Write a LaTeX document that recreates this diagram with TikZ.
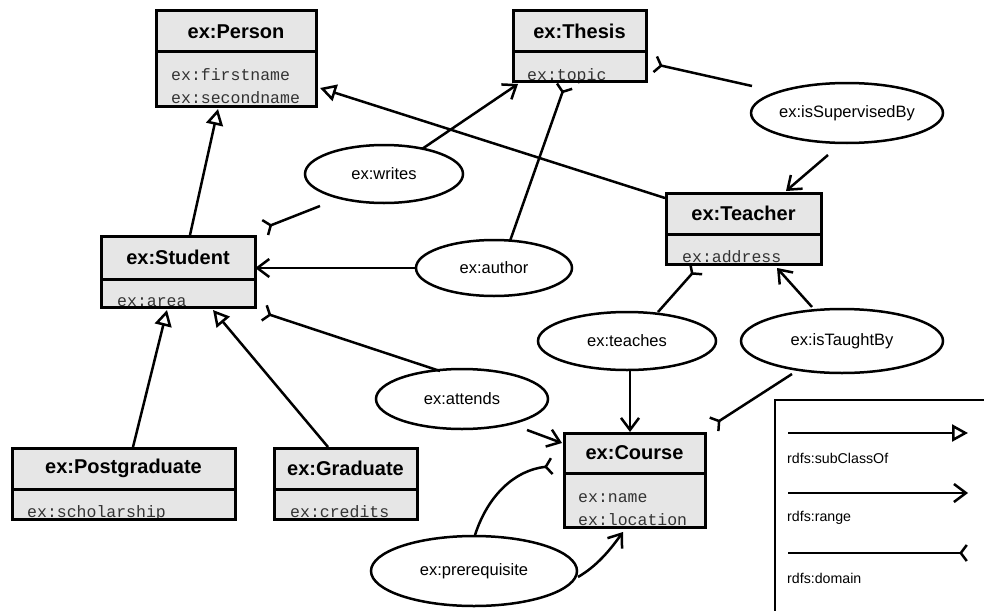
\documentclass[tikz,border=0pt]{standalone}
\usepackage{fontspec}
\setmainfont{Liberation Sans}
\setmonofont{Liberation Mono}
\usetikzlibrary{arrows.meta,shapes.geometric,calc,fit}
\definecolor{boxgray}{HTML}{E6E6E6}
\definecolor{attrgray}{HTML}{333333}
\tikzset{
 boxline/.style={line width=3pt},
 titletext/.style={font=\fontsize{20}{22}\selectfont\bfseries, inner sep=0pt},
 attr/.style={font=\ttfamily\fontsize{16.5}{18}\selectfont, text=attrgray, inner sep=0pt, anchor=base west},
 prop/.style={ellipse, draw, fill=white, line width=2.5pt, inner sep=0pt, font=\fontsize{16.5}{18}\selectfont},
 conn/.style={line width=2.5pt},
 subcl/.style={conn, -{Triangle[open, length=16pt, width=17pt]}},
 rng/.style={conn, -{Straight Barb[length=12pt, width=18pt]}},
 dom/.style={conn, -{Straight Barb[reversed, length=6pt, width=16pt]}},
 legtext/.style={font=\fontsize{14.2}{16}\selectfont, anchor=west, inner sep=0pt}
}
% name, x1, y1, x2, ydiv, y2, title
\newcommand\umlbox[7]{%
  \fill[boxgray] (#2,#3) rectangle (#4,#6);
  \node[titletext] at ({(#2+#4)/2},{(#3+#5)/2}) {#7};
  \node[fit={(#2,#3)(#4,#6)}, inner sep=0pt] (#1) {};
}
\newcommand\umlframe[5]{% x1,y1,x2,ydiv,y2
  \draw[boxline] (#1,#2) rectangle (#3,#5);
  \draw[boxline] (#1,#4) -- (#3,#4);
}
\begin{document}
\begin{tikzpicture}[x=1pt,y=-1pt]
\useasboundingbox (0,0) rectangle (984,610);
\fill[white] (0,0) rectangle (984,610);

% classes
\umlbox{person}{156}{11}{316}{52}{106}{ex:Person}
\node[attr] at (171,80) {ex:firstname};
\node[attr] at (171,103) {ex:secondname};
\umlframe{156}{11}{316}{52}{106}

\umlbox{thesis}{513}{11}{646}{52}{81}{ex:Thesis}
\node[attr] at (527,80) {ex:topic};
\umlframe{513}{11}{646}{52}{81}

\umlbox{student}{101}{236}{255}{279}{307}{ex:Student}
\node[attr] at (117,306) {ex:area};
\umlframe{101}{236}{255}{279}{307}

\umlbox{teacher}{666}{193}{821}{234}{264}{ex:Teacher}
\node[attr] at (682,262) {ex:address};
\umlframe{666}{193}{821}{234}{264}

\umlbox{postgrad}{12}{448}{235}{489}{519}{ex:Postgraduate}
\node[attr] at (27,517) {ex:scholarship};
\umlframe{12}{448}{235}{489}{519}

\umlbox{graduate}{274}{448}{417}{489}{519}{ex:Graduate}
\node[attr] at (290,517) {ex:credits};
\umlframe{274}{448}{417}{489}{519}

\umlbox{course}{564}{433}{705}{473}{527}{ex:Course}
\node[attr] at (578,502) {ex:name};
\node[attr] at (578,525) {ex:location};
\umlframe{564}{433}{705}{473}{527}

% properties
\node[prop, minimum width=158pt, minimum height=58pt] (writes) at (384,174) {ex:writes};
\node[prop, minimum width=156pt, minimum height=56pt] (author) at (494,268) {ex:author};
\node[prop, minimum width=190pt, minimum height=60pt] (issup) at (847,113) {ex:isSupervisedBy};
\node[prop, minimum width=178pt, minimum height=58pt] (teaches) at (627,341) {ex:teaches};
\node[prop, minimum width=202pt, minimum height=64pt] (istaught) at (842,341) {ex:isTaughtBy};
\node[prop, minimum width=172pt, minimum height=60pt] (attends) at (462,399) {ex:attends};
\node[prop, minimum width=206pt, minimum height=70pt] (prereq) at (474,571) {ex:prerequisite};

% subClassOf
\draw[subcl] ($(student)+(12,-36.5)$) -- ($(person)+(-18,50.5)$);
\draw[subcl] ($(teacher)+(-78.5,-30.5)$) -- ($(person)+(84,29.5)$);
\draw[subcl] ($(postgrad)+(9.5,-36.5)$) -- ($(student)+(-11,38.5)$);
\draw[subcl] ($(graduate)+(-17.5,-36.5)$) -- ($(student)+(35,38.5)$);

% range
\draw[rng] ($(writes)+(38,-25)$) -- ($(thesis)+(-61.5,38)$);
\draw[rng] (author.west) -- (author.west -| student.east);
\draw[rng] ($(issup)+(-19,42)$) -- ($(teacher)+(42.5,-37.5)$);
\draw[rng] ($(istaught)+(-30,-34)$) -- ($(teacher)+(33.5,39.5)$);
\draw[rng] ($(teaches)+(3,29)$) -- ($(course)+(-4.5,-48)$);
\draw[rng] ($(attends)+(65,31)$) -- ($(course)+(-72.5,-37)$);
\draw[rng] ($(prereq)+(104,6)$) .. controls ($(prereq)+(123,-5)$) and ($(prereq)+(136,-21)$) .. ($(course)+(-11.5,52)$);

% domain
\draw[dom] ($(writes)+(-64,32)$) -- ($(student)+(86,-43.5)$);
\draw[dom] ($(author)+(16,-27)$) -- ($(thesis)+(-14.5,39)$);
\draw[dom] ($(issup)+(-95,-27)$) -- ($(thesis)+(74.5,18)$);
\draw[dom] ($(teaches)+(31,-29)$) -- ($(teacher)+(-46.5,39.5)$);
\draw[dom] ($(istaught)+(-50,33)$) -- ($(course)+(78.5,-55)$);
\draw[dom] ($(attends)+(-22,-28)$) -- ($(student)+(85,41)$);
\draw[dom] ($(prereq)+(1,-36)$) .. controls ($(prereq)+(14,-76)$) and ($(prereq)+(41,-101)$) .. ($(course)+(-81.5,-14)$);

% legend
\draw[line width=1.5pt] (775,615) -- (775,400) -- (990,400);
\coordinate (l1a) at (788,433); \coordinate (l1b) at (968,433);
\coordinate (l2a) at (788,493); \coordinate (l2b) at (968,493);
\coordinate (l3a) at (788,553); \coordinate (l3b) at (968,553);
\draw[subcl] (l1a) -- (l1b);
\draw[rng] (l2a) -- (l2b);
\draw[dom] (l3a) -- (l3b);
\node[legtext] (t1) at (787,458) {rdfs:subClassOf};
\node[legtext] (t2) at (787,518) {rdfs:range};
\node[legtext] (t3) at (787,578) {rdfs:domain};
\end{tikzpicture}
\end{document}
